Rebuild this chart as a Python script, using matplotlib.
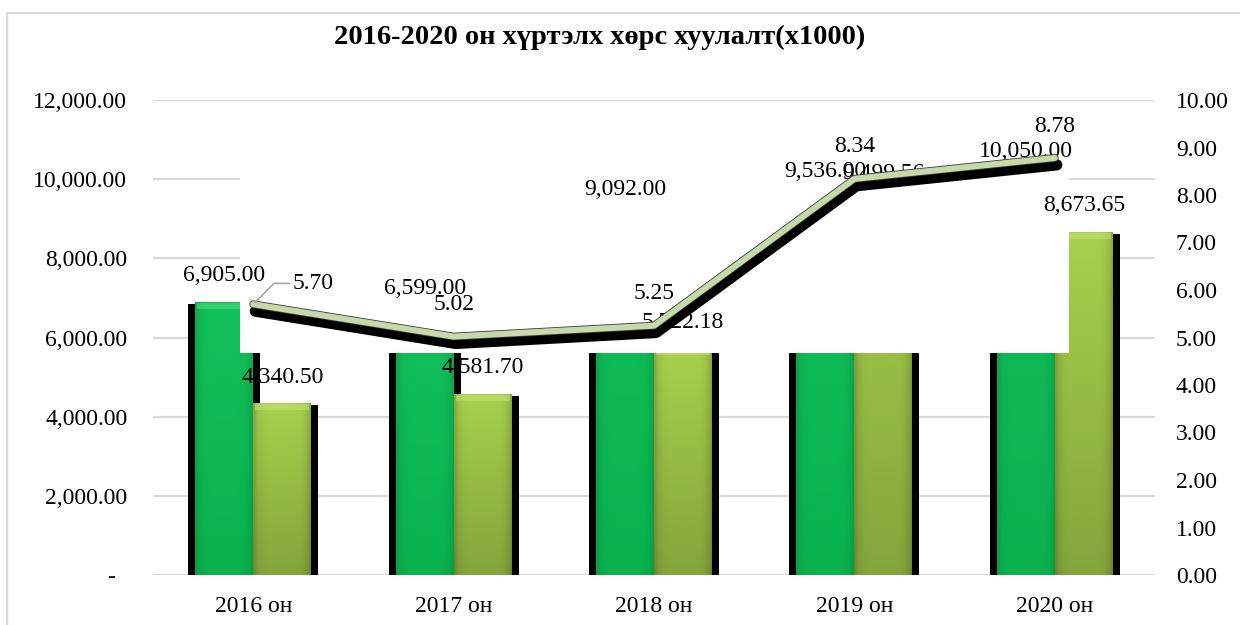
import numpy as np
import matplotlib
matplotlib.use('Agg')
import matplotlib.pyplot as plt
from matplotlib.patches import Rectangle
from matplotlib import patheffects as pe
from matplotlib.transforms import ScaledTranslation
from matplotlib.colors import to_rgb
from matplotlib.ticker import FixedLocator, FuncFormatter

# ---------------- data ----------------
categories = ['2016 он', '2017 он', '2018 он', '2019 он', '2020 он']
series_a = [6905.00, 6599.00, 9092.00, 9536.00, 10050.00]
series_b = [4340.50, 4581.70, 5722.18, 9499.56, 8673.65]
series_line = [5.70, 5.02, 5.25, 8.34, 8.78]
title = '2016-2020 он хүртэлх хөрс хуулалт(х1000)'
left_ticks = [0, 2000, 4000, 6000, 8000, 10000, 12000]
right_ticks = [0, 1, 2, 3, 4, 5, 6, 7, 8, 9, 10]

plt.rcParams['font.family'] = ['Liberation Serif', 'DejaVu Serif']

W, H, DPI = 1240, 625, 100
fig = plt.figure(figsize=(W / DPI, H / DPI), dpi=DPI)
fig.patch.set_facecolor('white')

L, R, T, B = 153, 1155, 100, 575
ax = fig.add_axes([L / W, 1 - B / H, (R - L) / W, (B - T) / H])
ax.set_xlim(-0.5, len(categories) - 0.5)
ax.set_ylim(0, 12000)
px_x = len(categories) / (R - L)
px_y = 12000 / (B - T)
x = np.arange(len(categories))
bw = 58 * px_x
FS = 17

# gridlines
ax.set_axisbelow(True)
ax.yaxis.grid(True, color='#D9D9D9', lw=1.6)
ax.xaxis.grid(False)
for s in ax.spines.values():
    s.set_visible(False)

# shadows
ax.bar(x - bw / 2, np.array(series_a) - 2 * px_y, width=bw + 14 * px_x, color='black', zorder=1, linewidth=0)
ax.bar(x + bw / 2, np.array(series_b) - 2 * px_y, width=bw + 14 * px_x, color='black', zorder=1, linewidth=0)

bars_a = ax.bar(x - bw / 2, series_a, width=bw, color='#0DB954', zorder=2, linewidth=0)
bars_b = ax.bar(x + bw / 2, series_b, width=bw, color='#98C046', zorder=2, linewidth=0)


def grad(patch, top_c, bot_c, edge=0.15, bevel_c=None):
    x0, w, h = patch.get_x(), patch.get_width(), patch.get_height()
    ny, nx = 80, 40
    t = np.linspace(0, 1, ny)[:, None, None]
    top = np.array(to_rgb(top_c))[None, None, :]
    bot = np.array(to_rgb(bot_c))[None, None, :]
    img = top * (1 - t) + bot * t
    img = np.repeat(img, nx, axis=1)
    u = np.linspace(0, 1, nx)
    f = 1 - edge * (np.abs(u - 0.5) * 2) ** 6
    img = np.clip(img * f[None, :, None], 0, 1)
    im = ax.imshow(img, extent=[x0, x0 + w, 0, h], origin='upper', aspect='auto',
                   zorder=2.2, interpolation='bilinear')
    im.set_clip_path(patch)
    if bevel_c is not None:
        bev = Rectangle((x0 + 2 * px_x, h - 7 * px_y), w - 4 * px_x, 6 * px_y,
                        facecolor=bevel_c, edgecolor='none', alpha=0.45, zorder=2.4)
        ax.add_patch(bev)


for p in bars_a:
    grad(p, '#12C05A', '#0AB24E', edge=0.12, bevel_c='#5FE08E')
for p in bars_b:
    grad(p, '#A8D04C', '#84A53C', edge=0.18, bevel_c='#C8E88A')

ax.set_xlim(-0.5, len(categories) - 0.5)
ax.set_ylim(0, 12000)

# white box overlaying the middle of the chart
ax.add_patch(Rectangle(((240 - L) / (R - L), (B - 353) / (B - T)),
                       (1069 - 240) / (R - L), (353 - 128) / (B - T),
                       transform=ax.transAxes, facecolor='white', edgecolor='none', zorder=3))

# bar labels
for xi, v in zip(x, series_a):
    ax.annotate(f'{v:,.2f}', (xi - bw / 2, v), xytext=(0, 18.5), textcoords='offset points',
                ha='center', va='center', fontsize=FS, zorder=4)
for xi, v in zip(x, series_b):
    ax.annotate(f'{v:,.2f}', (xi + bw / 2, v), xytext=(0, 18.5), textcoords='offset points',
                ha='center', va='center', fontsize=FS, zorder=4)

# axes ticks
ax.yaxis.set_major_locator(FixedLocator(left_ticks))
ax.yaxis.set_major_formatter(FuncFormatter(lambda v, p: '-' if v == 0 else f'{v:,.2f}'))
ax.set_xticks(x)
ax.set_xticklabels(categories)
ax.tick_params(axis='y', length=0, pad=18.5, labelsize=FS)
ax.tick_params(axis='x', length=0, pad=15, labelsize=FS)

# secondary axis with line
ax2 = ax.twinx()
ax2.set_ylim(0, 10)
for s in ax2.spines.values():
    s.set_visible(False)
ax2.yaxis.set_major_locator(FixedLocator(right_ticks))
ax2.yaxis.set_major_formatter(FuncFormatter(lambda v, p: f'{v:.2f}'))
ax2.tick_params(axis='y', length=0, pad=15, labelsize=FS)

ax2.plot(x, series_line, color='#C5D9AA', lw=4.4, solid_capstyle='round', solid_joinstyle='round',
         zorder=3,
         path_effects=[pe.SimpleLineShadow(offset=(1.5, -5.0), shadow_color='black', alpha=1.0, linewidth=8.0),
                       pe.Stroke(linewidth=5.6, foreground='#3A3A3A'),
                       pe.Normal()])

for i, v in enumerate(series_line):
    if i == 0:
        ax2.annotate(f'{v:.2f}', (x[i], v), xytext=(43, 15), textcoords='offset points',
                     ha='center', va='center', fontsize=FS, zorder=5,
                     arrowprops=dict(arrowstyle='-', color='#A6A6A6', lw=1.2, shrinkA=0, shrinkB=2,
                                     connectionstyle='angle,angleA=0,angleB=45,rad=0'))
    else:
        ax2.annotate(f'{v:.2f}', (x[i], v), xytext=(0, 23), textcoords='offset points',
                     ha='center', va='center', fontsize=FS, zorder=5)

# shift the "-" zero label like Excel accounting format
t0 = ax.yaxis.get_major_ticks()[0]
t0.label1.set_transform(t0.label1.get_transform() + ScaledTranslation(-12 / DPI, 0, fig.dpi_scale_trans))

# title
fig.text(600 / W, 1 - 37 / H, title, ha='center', va='center', fontsize=20.5, fontweight='bold')

# chart border
fig.add_artist(Rectangle((7 / W, -0.1), 1.2, 1 - 13 / H + 0.1, transform=fig.transFigure,
                         fill=False, edgecolor='#D9D9D9', lw=1.6))

fig.savefig('out.png', dpi=DPI, facecolor='white')
